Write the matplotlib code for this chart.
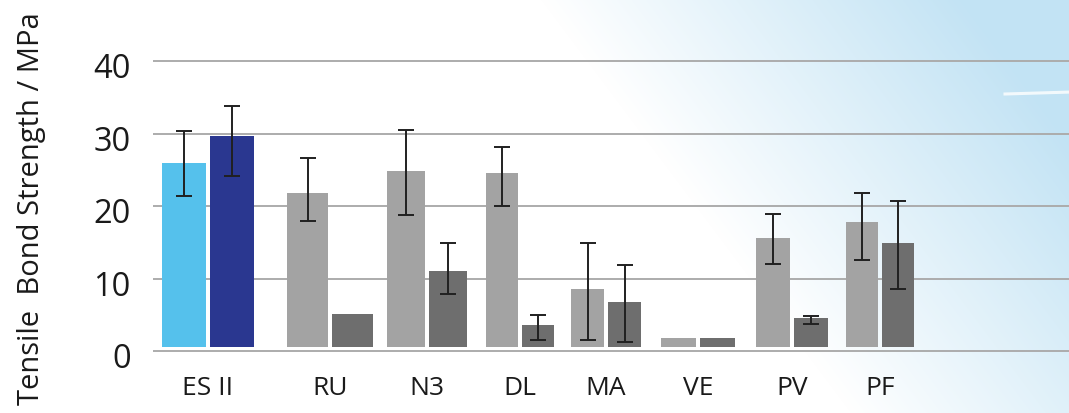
import numpy as np
import matplotlib
matplotlib.use("Agg")
import matplotlib.pyplot as plt
from matplotlib.transforms import offset_copy

# ---- data ----
categories = ["ES II", "RU", "N3", "DL", "MA", "VE", "PV", "PF"]
series_a = [26.0, 21.8, 24.8, 24.6, 8.5, 1.8, 15.6, 17.8]      # light bars
series_b = [29.6, 5.1, 11.0, 3.6, 6.7, 1.8, 4.5, 14.9]         # dark bars
err_a_hi = [30.4, 26.6, 30.5, 28.2, 14.9, None, 18.9, 21.8]
err_a_lo = [21.4, 17.9, 18.7, 20.0, 1.5, None, 12.0, 12.6]
err_b_hi = [33.8, None, 14.9, 4.9, 11.8, None, 4.8, 20.7]
err_b_lo = [24.1, None, 7.9, 1.5, 1.3, None, 3.7, 8.5]
yticks = [0, 10, 20, 30, 40]
ylabel = "Tensile  Bond Strength / MPa"

# ---- layout / style ----
W, H = 1069, 414
group_x = [208, 330, 427, 520, 606, 698, 792, 880]
bar_w = [44, 41, 38, 32, 33, 35, 34, 32]
gap = 4
base = 0.5
col_a = ["#55c1ec"] + ["#a3a3a3"] * 7
col_b = ["#2a3790"] + ["#6e6e6e"] * 7

plt.rcParams['font.family'] = ['Open Sans', 'DejaVu Sans']
fig = plt.figure(figsize=(W / 100, H / 100), dpi=100)

# background gradient
bg = fig.add_axes([0, 0, 1, 1], zorder=0)
yy, xx = np.mgrid[0:H, 0:W]
x0 = 540 + 0.75 * yy
t = np.clip((xx - x0) / 420.0, 0, 1) ** 1.0 * 0.9
blue = np.array([188, 224, 243]) / 255.0
img = 1 - t[..., None] * (1 - blue)
bg.imshow(img, extent=[0, W, H, 0], aspect='auto', interpolation='bilinear')
xs = np.linspace(1005, W, 50)
bg.plot(xs, 95 - (xs - 1005) * 0.03, color='white', lw=2.2, alpha=0.8)
bg.set_xlim(0, W)
bg.set_ylim(H, 0)
bg.axis('off')

# main axes
ymin, ymax = -1, 44
px_per = 7.25
zero_px = 352
top_px = zero_px - ymax * px_per
bot_px = zero_px - ymin * px_per
left_px = 153
ax = fig.add_axes([left_px / W, 1 - bot_px / H, (W - left_px) / W, (bot_px - top_px) / H], zorder=1)
ax.set_facecolor('none')
ax.set_xlim(left_px, W)
ax.set_ylim(ymin, ymax)

for v in yticks:
    ax.axhline(v, color='#acacac', lw=1.4, zorder=1)

for i in range(len(categories)):
    w = bar_w[i]
    xa = group_x[i] - w / 2 - gap / 2
    xb = group_x[i] + w / 2 + gap / 2
    ax.bar(xa, series_a[i] - base, bottom=base, width=w, color=col_a[i], zorder=2)
    ax.bar(xb, series_b[i] - base, bottom=base, width=w, color=col_b[i], zorder=2)
    for xc, hi, lo, val in ((xa, err_a_hi[i], err_a_lo[i], series_a[i]),
                            (xb, err_b_hi[i], err_b_lo[i], series_b[i])):
        if hi is None:
            continue
        ax.errorbar(xc, val, yerr=[[val - lo], [hi - val]], fmt='none',
                    ecolor='#202020', elinewidth=1.4, capsize=5.5, capthick=1.4, zorder=3)

ax.set_xticks(group_x)
ax.set_xticklabels(categories, fontsize=19, color='#1a1a1a')
ax.tick_params(axis='x', length=0, pad=12)
ax.set_yticks(yticks)
ax.set_yticklabels([str(v) for v in yticks], fontsize=23.5, color='#1a1a1a')
ax.tick_params(axis='y', length=0, pad=16)
for lab in ax.get_yticklabels():
    lab.set_transform(offset_copy(lab.get_transform(), fig=fig, x=0, y=-4, units='dots'))
for s in ax.spines.values():
    s.set_visible(False)

fig.text(32 / W, 0.497, ylabel, rotation=90, ha='center', va='center', fontsize=21, color='#1a1a1a')

fig.savefig("out.png", dpi=100)
